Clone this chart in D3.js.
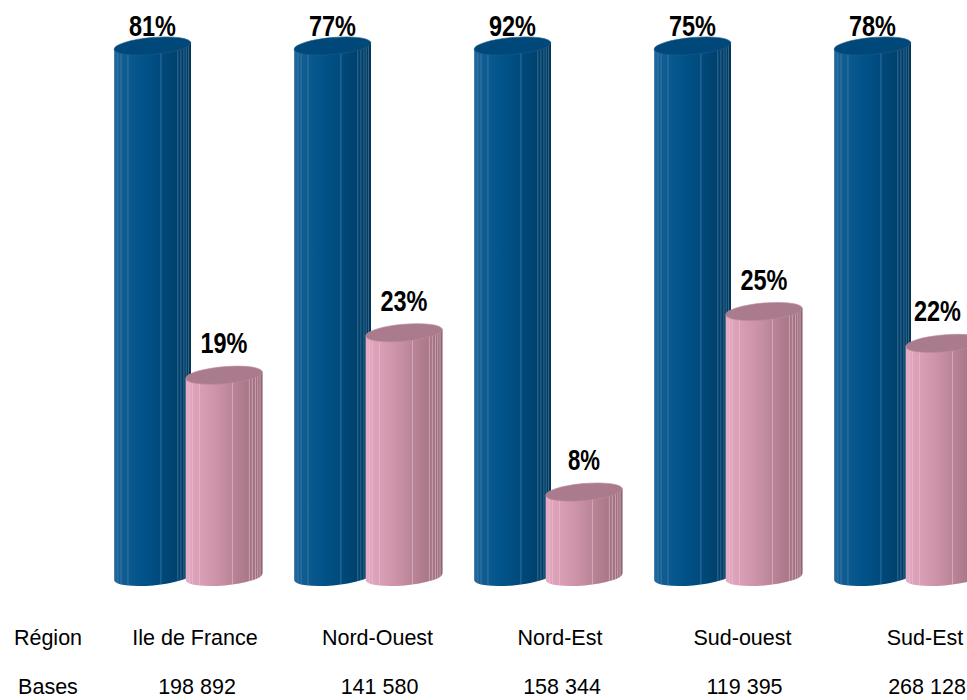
<!DOCTYPE html>
<html>
<head>
<meta charset="utf-8">
<script src="https://cdn.jsdelivr.net/npm/d3@7"></script>
<style>
  html, body { margin: 0; padding: 0; background: #ffffff; }
  svg { display: block; }
</style>
</head>
<body>
<div id="chart"></div>
<script>
// ---- data ----
const regions = ["Ile de France", "Nord-Ouest", "Nord-Est", "Sud-ouest", "Sud-Est"];
const seriesNames = ["oui", "non"];
const valuesOui = [81, 77, 92, 75, 78];
const valuesNon = [19, 23, 8, 25, 22];
const bases = ["198 892", "141 580", "158 344", "119 395", "268 128"];
const rowHeaders = ["Région", "Bases"];
const yMax = 50;

// ---- setup ----
const W = 967, H = 700;
const svg = d3.select("#chart").append("svg").attr("width", W).attr("height", H);
const defs = svg.append("defs");

function grad(id, stops) {
  const g = defs.append("linearGradient").attr("id", id)
    .attr("x1", 0).attr("x2", 1).attr("y1", 0).attr("y2", 0);
  stops.forEach(s => g.append("stop").attr("offset", s[0]).attr("stop-color", s[1]));
}
grad("gBlue", [[0, "#2b6c9e"], [0.05, "#135f95"], [0.35, "#02548a"], [0.6, "#004a7c"], [0.85, "#00406b"], [1, "#00375c"]]);
grad("gPink", [[0, "#e6aec4"], [0.08, "#e0a4bc"], [0.4, "#cc93a8"], [0.7, "#b27f91"], [1, "#986c7c"]]);

const styles = {
  oui: { body: "url(#gBlue)", cap: "#00477a", line: "#5f8fb5", rim: "#1d5b88" },
  non: { body: "url(#gPink)", cap: "#a97b8c", line: "#efc3d3", rim: "#b98a9b" }
};

const x = d3.scaleBand().domain(regions).range([98, 98 + 180 * regions.length]).paddingInner(0).paddingOuter(0);
const xs = d3.scalePoint().domain(seriesNames).range([54.5, 126]);
const y = d3.scaleLinear().domain([0, yMax]).range([577, 46]).clamp(true);

const r = 38.5, ry = 8.5, tilt = 5;
const a = tilt * Math.PI / 180;
const ex = r * Math.cos(a), ey = r * Math.sin(a);
const facets = [0.05, 0.09, 0.18, 0.61, 0.83, 0.87, 0.91, 0.94, 0.97];

const data = [];
regions.forEach((reg, i) => {
  data.push({ region: reg, s: "oui", v: valuesOui[i], i });
  data.push({ region: reg, s: "non", v: valuesNon[i], i });
});

const g = svg.append("g");
data.forEach((d, k) => {
  const cx = x(d.region) + xs(d.s);
  const yt = y(d.v), yb = y(0);
  const st = styles[d.s];
  const bodyPath = `M${cx - ex},${yt + ey} L${cx + ex},${yt - ey} L${cx + ex},${yb - ey} A${r},${ry} ${-tilt} 0 1 ${cx - ex},${yb + ey} Z`;
  const cid = "clip" + k;
  defs.append("clipPath").attr("id", cid).append("path").attr("d", bodyPath);
  const bar = g.append("g");
  bar.append("path").attr("d", bodyPath).attr("fill", st.body);
  const lg = bar.append("g").attr("clip-path", `url(#${cid})`);
  facets.forEach(f => {
    const lx = cx - ex + f * 2 * ex;
    lg.append("line").attr("x1", lx).attr("x2", lx).attr("y1", yt - 10).attr("y2", yb + 12)
      .attr("stroke", st.line).attr("stroke-width", 1).attr("stroke-opacity", 0.55);
  });
  bar.append("line").attr("x1", cx + ex - 0.5).attr("x2", cx + ex - 0.5).attr("y1", yt - ey).attr("y2", yb - ey)
    .attr("stroke", d.s === "oui" ? "#00304f" : "#8a6170").attr("stroke-width", 1);
  bar.append("ellipse").attr("cx", cx).attr("cy", yt).attr("rx", r).attr("ry", ry)
    .attr("transform", `rotate(${-tilt},${cx},${yt})`)
    .attr("fill", st.cap).attr("stroke", st.rim).attr("stroke-width", 0.6);
});

// value labels
const labels = svg.append("g")
  .attr("font-family", "'Liberation Sans Narrow', 'Arial Narrow', 'Liberation Sans', sans-serif")
  .attr("font-weight", "bold").attr("font-size", 29).attr("fill", "#000").attr("text-anchor", "middle");
data.forEach(d => {
  const cx = x(d.region) + xs(d.s);
  labels.append("text").attr("x", cx).attr("y", Math.max(y(d.v) - 22, 36)).text(d.v + "%");
});
// narrow fallback + keep inside the frame
labels.selectAll("text").each(function () {
  let len = this.getComputedTextLength();
  const target = this.textContent.length === 2 ? 32 : 47;
  if (len > target * 1.1) {
    d3.select(this).attr("textLength", target).attr("lengthAdjust", "spacingAndGlyphs");
    len = target;
  }
  const cxl = +this.getAttribute("x");
  if (cxl + len / 2 > W - 6) this.setAttribute("x", W - 6 - len / 2);
});

// table below
const xt = d3.scalePoint().domain(regions).range([195, 925]);
const table = svg.append("g").attr("font-family", "'Liberation Sans', Arial, sans-serif")
  .attr("font-size", 21.5).attr("fill", "#000").attr("text-anchor", "middle");
table.append("text").attr("x", 48).attr("y", 645).text(rowHeaders[0]);
table.append("text").attr("x", 48).attr("y", 694).text(rowHeaders[1]);
regions.forEach((reg, i) => {
  table.append("text").attr("x", xt(reg)).attr("y", 645).text(reg);
  table.append("text").attr("x", xt(reg) + 2).attr("y", 694).text(bases[i]);
});
</script>
</body>
</html>
